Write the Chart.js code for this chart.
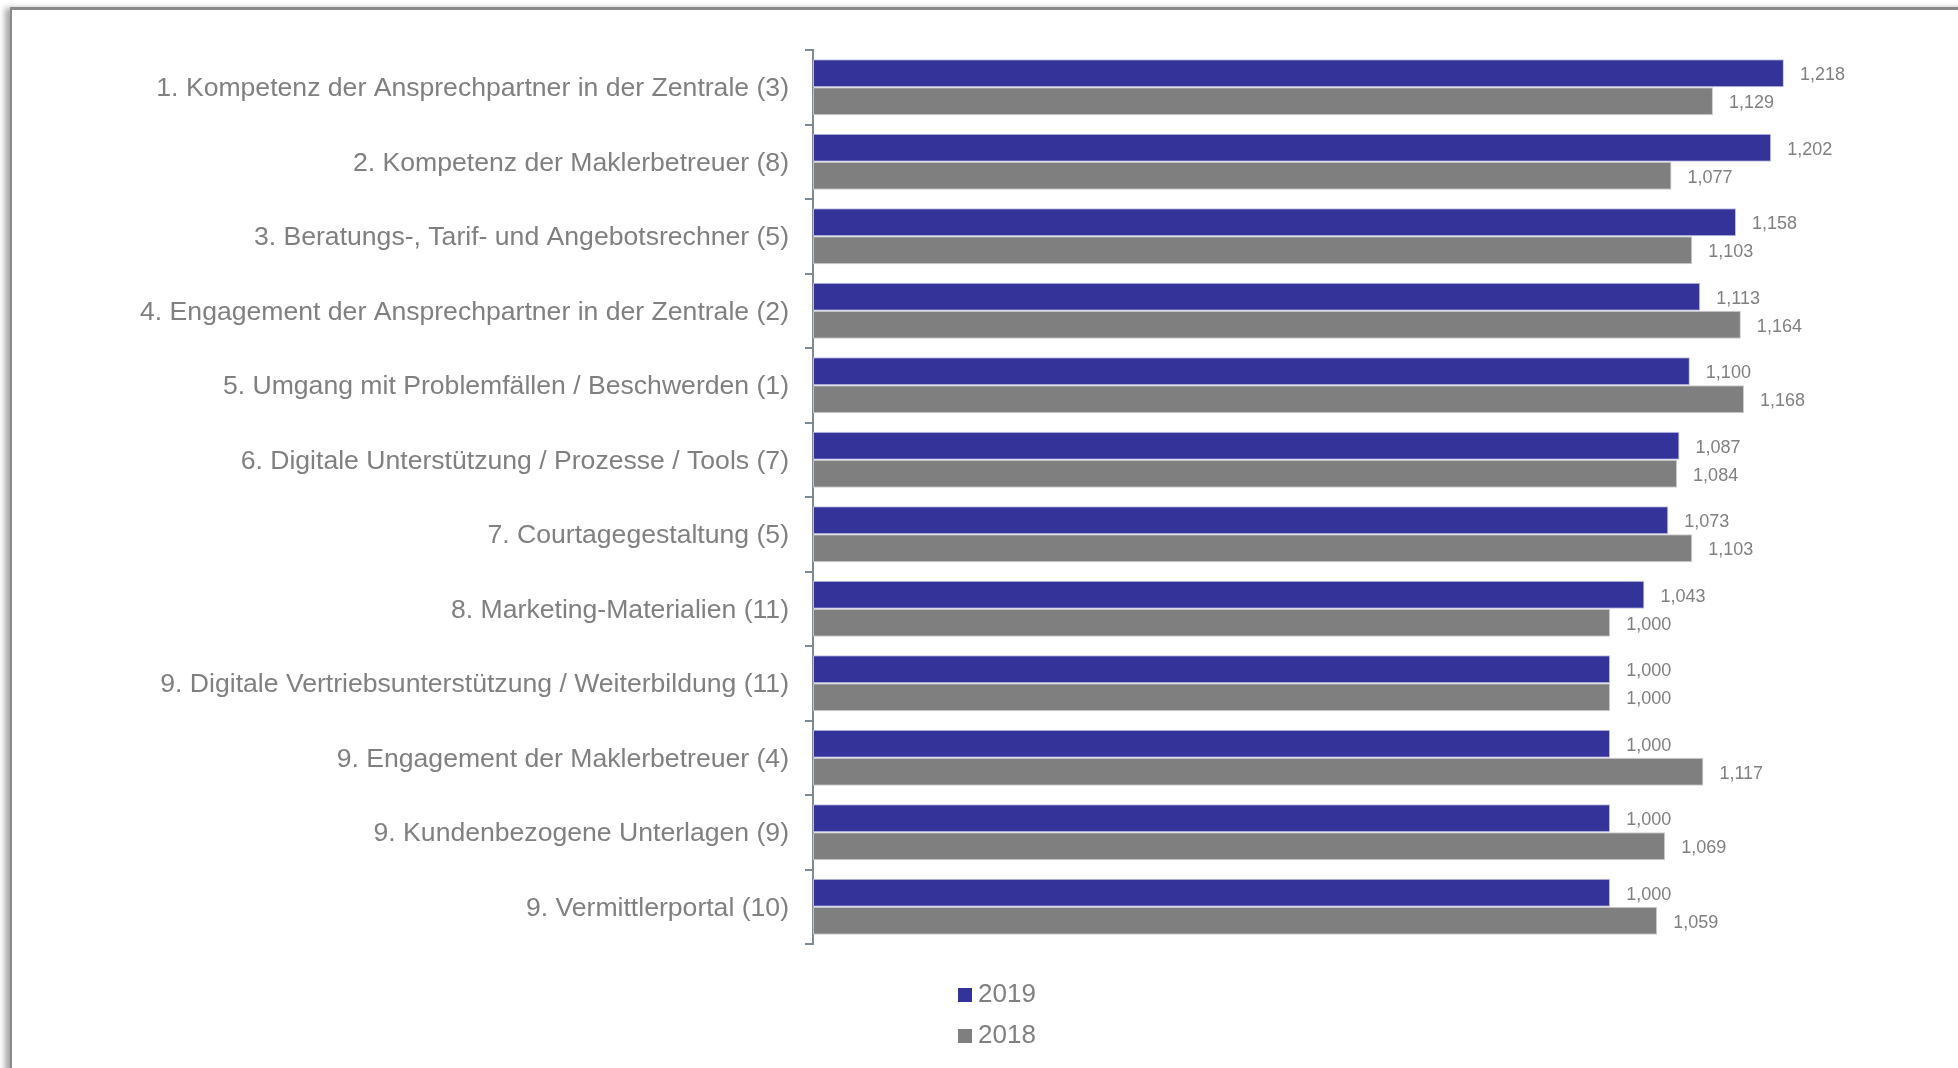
<!DOCTYPE html>
<html>
<head>
<meta charset="utf-8">
<script src="https://cdn.jsdelivr.net/npm/chart.js@4.4.1/dist/chart.umd.min.js"></script>
<style>
  html, body { margin: 0; padding: 0; background: #ffffff; overflow: hidden; }
  #frame { position: absolute; left: 10px; top: 7px; width: 3000px; height: 3000px;
           border-top: 3px solid #8a8a8a; border-left: 2px solid #8a8a8a;
           box-shadow: -5px 1px 6px rgba(0,0,0,0.35); background: #ffffff; }
  #wrap { position: absolute; left: 0; top: 0; width: 1958px; height: 1068px; }
</style>
</head>
<body>
<div id="frame"></div>
<div id="wrap"><canvas id="c" width="1958" height="1068"></canvas></div>
<script>
const categories = [
  "1. Kompetenz der Ansprechpartner in der Zentrale (3)",
  "2. Kompetenz der Maklerbetreuer (8)",
  "3. Beratungs-, Tarif- und Angebotsrechner (5)",
  "4. Engagement der Ansprechpartner in der Zentrale (2)",
  "5. Umgang mit Problemfällen / Beschwerden (1)",
  "6. Digitale Unterstützung / Prozesse / Tools (7)",
  "7. Courtagegestaltung (5)",
  "8. Marketing-Materialien (11)",
  "9. Digitale Vertriebsunterstützung / Weiterbildung (11)",
  "9. Engagement der Maklerbetreuer (4)",
  "9. Kundenbezogene Unterlagen (9)",
  "9. Vermittlerportal (10)"
];
const seriesNames = ["2019", "2018"];
const values2019 = [1.218, 1.202, 1.158, 1.113, 1.100, 1.087, 1.073, 1.043, 1.000, 1.000, 1.000, 1.000];
const values2018 = [1.129, 1.077, 1.103, 1.164, 1.168, 1.084, 1.103, 1.000, 1.000, 1.117, 1.069, 1.059];

const BLUE = '#333399';
const GRAY = '#7f7f7f';
const TEXT = '#808080';
const FONT = '"Liberation Sans", Arial, sans-serif';

const valueLabels = {
  id: 'valueLabels',
  afterDatasetsDraw(chart) {
    const ctx = chart.ctx;
    ctx.save();
    ctx.font = '18px ' + FONT;
    ctx.fillStyle = TEXT;
    ctx.textAlign = 'left';
    ctx.textBaseline = 'middle';
    chart.data.datasets.forEach((ds, di) => {
      const meta = chart.getDatasetMeta(di);
      meta.data.forEach((bar, i) => {
        const txt = ds.data[i].toFixed(3).replace('.', ',');
        ctx.fillText(txt, bar.x + 16, bar.y + 2);
      });
    });
    ctx.restore();
  }
};

const stackedLegend = {
  id: 'stackedLegend',
  afterDraw(chart) {
    const ctx = chart.ctx;
    ctx.save();
    ctx.font = '26px ' + FONT;
    ctx.textBaseline = 'middle';
    ctx.textAlign = 'left';
    const x0 = 958, y0 = 995, gap = 41, box = 14;
    chart.data.datasets.forEach((ds, i) => {
      const cy = y0 + i * gap;
      ctx.fillStyle = ds.backgroundColor;
      ctx.fillRect(x0, cy - box / 2, box, box);
      ctx.fillStyle = TEXT;
      ctx.fillText(ds.label, x0 + box + 6, cy);
    });
    ctx.restore();
  }
};

new Chart(document.getElementById('c'), {
  type: 'bar',
  data: {
    labels: categories,
    datasets: [
      { label: seriesNames[0], data: values2019, backgroundColor: BLUE,
        borderColor: 'rgba(190,190,230,0.9)', borderWidth: 1, borderSkipped: false },
      { label: seriesNames[1], data: values2018, backgroundColor: GRAY,
        borderColor: 'rgba(200,200,200,0.9)', borderWidth: 1, borderSkipped: false }
    ]
  },
  options: {
    indexAxis: 'y',
    responsive: false,
    animation: false,
    devicePixelRatio: 1,
    categoryPercentage: 0.752,
    barPercentage: 1.0,
    layout: { padding: { left: 0, top: 50, right: 29, bottom: 124 } },
    plugins: {
      legend: { display: false },
      tooltip: { enabled: false }
    },
    scales: {
      x: {
        display: false,
        min: 0,
        max: 1.4
      },
      y: {
        afterFit(scale) { scale.width = 813; },
        border: { display: true, color: '#7d8a97', width: 2 },
        grid: { display: true, drawOnChartArea: false, drawTicks: true, tickLength: 8,
                color: '#7d8a97', lineWidth: 2, offset: true },
        ticks: { color: TEXT, padding: 16, labelOffset: 1.5, font: { family: FONT, size: 26.6 } }
      }
    }
  },
  plugins: [valueLabels, stackedLegend]
});
</script>
</body>
</html>
